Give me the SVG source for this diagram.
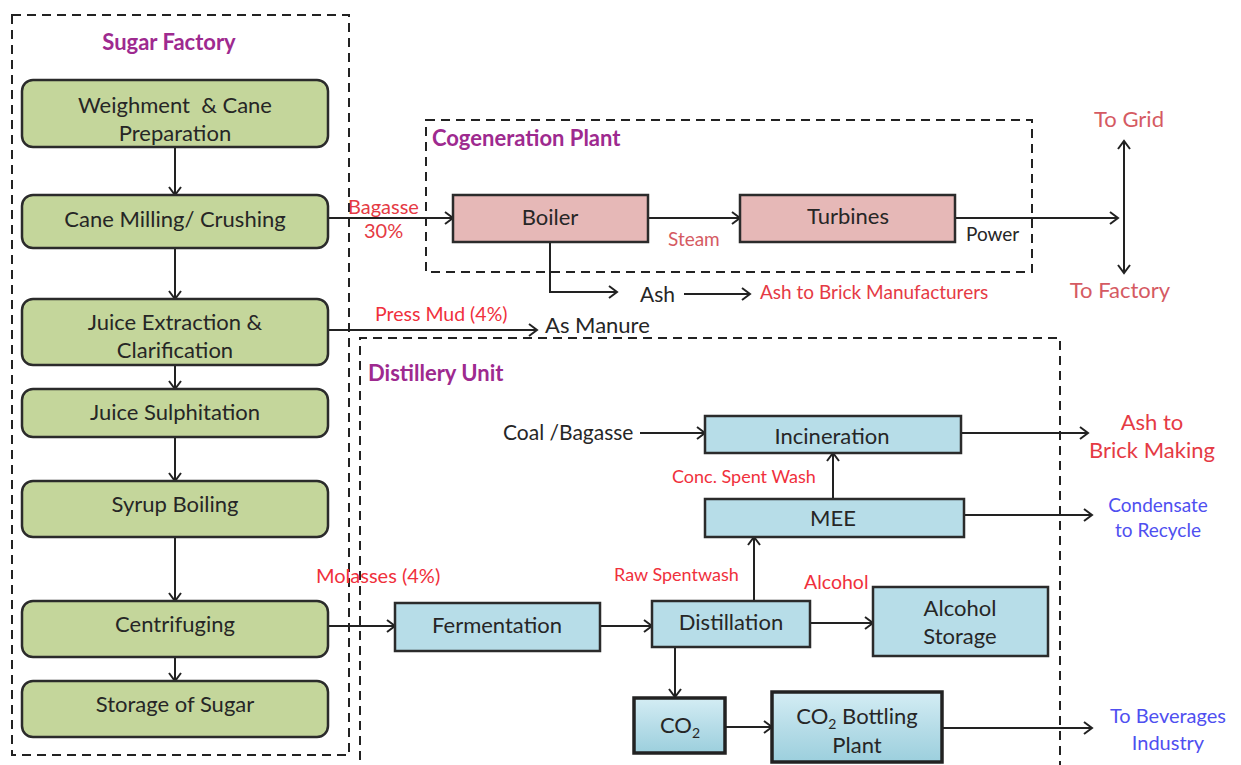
<svg xmlns="http://www.w3.org/2000/svg" width="1241" height="765" viewBox="0 0 1241 765">
<defs>
<marker id="arr" markerWidth="14" markerHeight="14" refX="11" refY="7" orient="auto" markerUnits="userSpaceOnUse">
<path d="M3,1 L11,7 L3,13" fill="none" stroke="#222" stroke-width="2"/>
</marker>
<linearGradient id="bev" x1="0" y1="0" x2="0" y2="1">
<stop offset="0" stop-color="#d4edf4"/>
<stop offset="0.5" stop-color="#b7dde8"/>
<stop offset="1" stop-color="#9ccfdd"/>
</linearGradient>
</defs>
<style>
.dash{fill:none;stroke:#222;stroke-width:2;stroke-dasharray:9,6}
.g{fill:#c4d69b;stroke:#2b2b2b;stroke-width:2.5}
.p{fill:#e6b8b7;stroke:#2b2b2b;stroke-width:2.5}
.b{fill:#b7dde8;stroke:#2b2b2b;stroke-width:2.5}
.b3{fill:url(#bev);stroke:#222;stroke-width:3.5}
.ln{fill:none;stroke:#222;stroke-width:2}
text{font-family:Lato,"Open Sans","Liberation Sans",sans-serif;fill:#262626}
.t{font-size:22px;text-anchor:middle}
.h{font-size:22px;font-weight:bold;fill:#9e2a8f}
.r{font-size:18px;fill:#f0303c}
.rs{font-size:19px;fill:#e53a44}
.pk{font-size:19px;fill:#d55a62}
.bl{font-size:19px;fill:#4f4ff0;text-anchor:middle}
.k{font-size:21px;fill:#262626}
</style>

<g id="frames">
<rect class="dash" x="12" y="15" width="337" height="740"/>
<rect class="dash" x="426" y="120" width="606" height="152"/>
<path class="dash" d="M360,775 L360,338 L1060,338 L1060,775"/>
</g>

<g id="connectors">
<line class="ln" x1="175" y1="147" x2="175" y2="195" marker-end="url(#arr)"/>
<line class="ln" x1="175" y1="248" x2="175" y2="299" marker-end="url(#arr)"/>
<line class="ln" x1="175" y1="365" x2="175" y2="389" marker-end="url(#arr)"/>
<line class="ln" x1="175" y1="437" x2="175" y2="481" marker-end="url(#arr)"/>
<line class="ln" x1="175" y1="537" x2="175" y2="601" marker-end="url(#arr)"/>
<line class="ln" x1="175" y1="657" x2="175" y2="681" marker-end="url(#arr)"/>
<line class="ln" x1="328" y1="218" x2="453" y2="218" marker-end="url(#arr)"/>
<line class="ln" x1="648" y1="218" x2="740" y2="218" marker-end="url(#arr)"/>
<line class="ln" x1="955" y1="218" x2="1118" y2="218" marker-end="url(#arr)"/>
<line class="ln" x1="1124" y1="208" x2="1124" y2="141" marker-end="url(#arr)"/>
<line class="ln" x1="1124" y1="208" x2="1124" y2="273" marker-end="url(#arr)"/>
<polyline class="ln" points="550,242 550,292 617,292" marker-end="url(#arr)"/>
<line class="ln" x1="684" y1="294" x2="750" y2="294" marker-end="url(#arr)"/>
<line class="ln" x1="328" y1="330" x2="537" y2="330" marker-end="url(#arr)"/>
<line class="ln" x1="640" y1="433" x2="705" y2="433" marker-end="url(#arr)"/>
<line class="ln" x1="833" y1="499" x2="833" y2="453" marker-end="url(#arr)"/>
<line class="ln" x1="961" y1="433" x2="1088" y2="433" marker-end="url(#arr)"/>
<line class="ln" x1="964" y1="515" x2="1092" y2="515" marker-end="url(#arr)"/>
<line class="ln" x1="328" y1="626" x2="395" y2="626" marker-end="url(#arr)"/>
<line class="ln" x1="600" y1="626" x2="652" y2="626" marker-end="url(#arr)"/>
<line class="ln" x1="754" y1="601" x2="754" y2="537" marker-end="url(#arr)"/>
<line class="ln" x1="810" y1="623" x2="873" y2="623" marker-end="url(#arr)"/>
<line class="ln" x1="675" y1="647" x2="675" y2="697" marker-end="url(#arr)"/>
<line class="ln" x1="725" y1="727" x2="772" y2="727" marker-end="url(#arr)"/>
<line class="ln" x1="942" y1="728" x2="1092" y2="728" marker-end="url(#arr)"/>
</g>

<g id="sugar-factory-title"><text class="h" x="169" y="50" text-anchor="middle">Sugar Factory</text></g>
<g id="weighment"><rect class="g" x="22" y="80" width="306" height="67" rx="11"/><text class="t" x="175" y="113">Weighment &#160;&amp; Cane</text><text class="t" x="175" y="141">Preparation</text></g>
<g id="milling"><rect class="g" x="22" y="195" width="306" height="53" rx="11"/><text class="t" x="175" y="227">Cane Milling/ Crushing</text></g>
<g id="extraction"><rect class="g" x="22" y="299" width="306" height="66" rx="11"/><text class="t" x="175" y="330">Juice Extraction &amp;</text><text class="t" x="175" y="358">Clarification</text></g>
<g id="sulphitation"><rect class="g" x="22" y="389" width="306" height="48" rx="11"/><text class="t" x="175" y="420">Juice Sulphitation</text></g>
<g id="syrup"><rect class="g" x="22" y="481" width="306" height="56" rx="11"/><text class="t" x="175" y="512">Syrup Boiling</text></g>
<g id="centrifuging"><rect class="g" x="22" y="601" width="306" height="56" rx="11"/><text class="t" x="175" y="632">Centrifuging</text></g>
<g id="storage-sugar"><rect class="g" x="22" y="681" width="306" height="56" rx="11"/><text class="t" x="175" y="712">Storage of Sugar</text></g>

<g id="cogen-title"><text class="h" x="432" y="146">Cogeneration Plant</text></g>
<g id="boiler"><rect class="p" x="453" y="195" width="195" height="47"/><text class="t" x="550" y="225">Boiler</text></g>
<g id="turbines"><rect class="p" x="740" y="195" width="215" height="47"/><text class="t" x="848" y="224">Turbines</text></g>

<g id="labels-top">
<text class="rs" x="348" y="214" style="font-size:20px">Bagasse</text>
<text class="rs" x="364" y="238" style="font-size:20px">30%</text>
<text class="pk" x="668" y="246">Steam</text>
<text class="k" x="966" y="241" style="font-size:19px">Power</text>
<text class="pk" x="1129" y="127" text-anchor="middle" style="font-size:22px">To Grid</text>
<text class="pk" x="1120" y="298" text-anchor="middle" style="font-size:22px">To Factory</text>
<text class="k" x="640" y="302">Ash</text>
<text class="rs" x="760" y="299">Ash to Brick Manufacturers</text>
<text class="r" x="375" y="321" style="font-size:19.5px">Press Mud (4%)</text>
<text class="k" x="545" y="333" style="font-size:22px">As Manure</text>
</g>

<g id="distillery-title"><text class="h" x="368" y="381">Distillery Unit</text></g>
<g id="incineration"><rect class="b" x="705" y="416" width="256" height="37"/><text class="t" x="832" y="444">Incineration</text></g>
<g id="mee"><rect class="b" x="705" y="499" width="259" height="38"/><text class="t" x="833" y="526">MEE</text></g>
<g id="fermentation"><rect class="b" x="395" y="603" width="205" height="48"/><text class="t" x="497" y="633">Fermentation</text></g>
<g id="distillation"><rect class="b" x="652" y="601" width="158" height="46"/><text class="t" x="731" y="630">Distillation</text></g>
<g id="alcohol-storage"><rect class="b" x="873" y="587" width="175" height="69"/><text class="t" x="960" y="616">Alcohol</text><text class="t" x="960" y="644">Storage</text></g>
<g id="co2"><rect class="b3" x="634" y="698" width="91" height="55"/><text class="t" x="680" y="733">CO<tspan style="font-size:14px" dy="5">2</tspan></text></g>
<g id="co2-bottling"><rect class="b3" x="772" y="692" width="170" height="70"/><text class="t" x="857" y="724">CO<tspan style="font-size:14px" dy="5">2</tspan><tspan dy="-5"> Bottling</tspan></text><text class="t" x="857" y="753">Plant</text></g>

<g id="labels-distillery">
<text class="k" x="503" y="440">Coal /Bagasse</text>
<text class="r" x="672" y="483">Conc. Spent Wash</text>
<text class="rs" x="1152" y="430" text-anchor="middle" style="font-size:22px">Ash to</text>
<text class="rs" x="1152" y="458" text-anchor="middle" style="font-size:22px">Brick Making</text>
<text class="bl" x="1158" y="512">Condensate</text>
<text class="bl" x="1158" y="537">to Recycle</text>
<text class="r" x="316" y="583" style="font-size:20px">Molasses (4%)</text>
<text class="r" x="614" y="581">Raw Spentwash</text>
<text class="r" x="804" y="589" style="font-size:19.5px">Alcohol</text>
<text class="bl" x="1168" y="723" style="font-size:20px">To Beverages</text>
<text class="bl" x="1168" y="750" style="font-size:20px">Industry</text>
</g>
</svg>
